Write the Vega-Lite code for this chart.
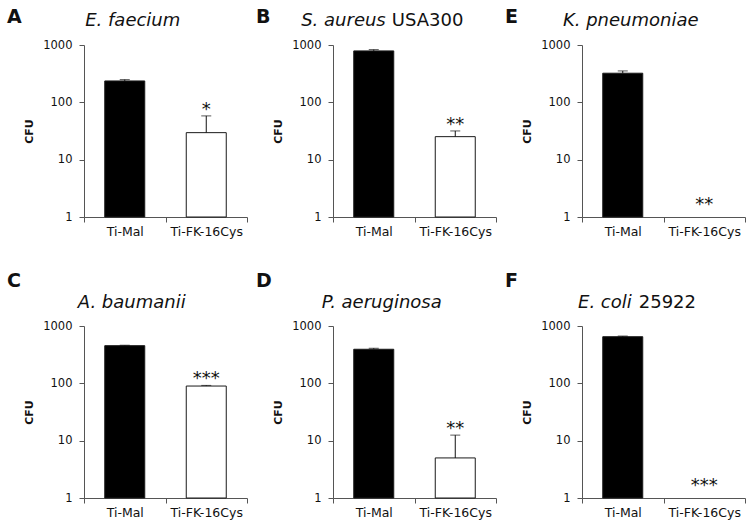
{
  "$schema": "https://vega.github.io/schema/vega-lite/v6.json",
  "padding": {"left": 7, "top": 8, "right": 4, "bottom": 4},
  "background": "white",
  "datasets": {
    "cfu": [
      {"panel": "A", "group": "Ti-Mal", "cfu": 236, "hi": 249, "star": null, "star_at": null},
      {"panel": "A", "group": "Ti-FK-16Cys", "cfu": 29.6, "hi": 58, "star": "*", "star_at": 58},
      {"panel": "B", "group": "Ti-Mal", "cfu": 789, "hi": 831, "star": null, "star_at": null},
      {"panel": "B", "group": "Ti-FK-16Cys", "cfu": 25.2, "hi": 31.7, "star": "**", "star_at": 31.7},
      {"panel": "E", "group": "Ti-Mal", "cfu": 322, "hi": 353, "star": null, "star_at": null},
      {"panel": "E", "group": "Ti-FK-16Cys", "cfu": null, "hi": null, "star": "**", "star_at": 1.25},
      {"panel": "C", "group": "Ti-Mal", "cfu": 454, "hi": 462, "star": null, "star_at": null},
      {"panel": "C", "group": "Ti-FK-16Cys", "cfu": 89.7, "hi": 92, "star": "***", "star_at": 92},
      {"panel": "D", "group": "Ti-Mal", "cfu": 393, "hi": 409, "star": null, "star_at": null},
      {"panel": "D", "group": "Ti-FK-16Cys", "cfu": 5.0, "hi": 12.5, "star": "**", "star_at": 12.5},
      {"panel": "F", "group": "Ti-Mal", "cfu": 651, "hi": 668, "star": null, "star_at": null},
      {"panel": "F", "group": "Ti-FK-16Cys", "cfu": null, "hi": null, "star": "***", "star_at": 1.25}
    ]
  },
  "bounds": "flush",
  "columns": 3,
  "spacing": {"row": 109, "column": 86},
  "concat": [
    {
      "width": 163, "height": 172,
      "data": {"name": "cfu"},
      "transform": [{"filter": "datum.panel == 'A'"}],
      "layer": [
        {"mark": {"type": "bar", "width": 40, "stroke": "#1a1a1a", "strokeWidth": 1},
         "encoding": {
           "x": {"field": "group", "type": "nominal", "scale": {"domain": ["Ti-Mal", "Ti-FK-16Cys"], "paddingInner": 0, "paddingOuter": 0}, "axis": {"title": null, "labelAngle": 0, "tickBand": "extent"}},
           "y": {"field": "cfu", "type": "quantitative", "scale": {"type": "log", "domain": [1, 1000]}, "title": "CFU", "axis": {"values": [1, 10, 100, 1000], "format": "d", "labelFlush": false, "labelOverlap": false}},
           "y2": {"datum": 1},
           "color": {"field": "group", "type": "nominal", "scale": {"domain": ["Ti-Mal", "Ti-FK-16Cys"], "range": ["#000000", "#ffffff"]}, "legend": null}}},
        {"mark": {"type": "rule", "color": "#111", "strokeWidth": 1},
         "encoding": {"x": {"field": "group", "type": "nominal"}, "y": {"field": "hi", "type": "quantitative", "title": "CFU"}, "y2": {"field": "cfu"}}},
        {"mark": {"type": "tick", "color": "#111", "thickness": 1, "size": 10},
         "encoding": {"x": {"field": "group", "type": "nominal"}, "y": {"field": "hi", "type": "quantitative", "title": "CFU"}}},
        {"transform": [{"filter": "datum.star != null"}],
         "mark": {"type": "text", "fontSize": 18, "baseline": "alphabetic", "dy": -1},
         "encoding": {"x": {"field": "group", "type": "nominal"}, "y": {"field": "star_at", "type": "quantitative", "title": "CFU"}, "text": {"field": "star"}}},
        {"data": {"values": [{}]},
         "mark": {"type": "text", "text": "E. faecium", "fontSize": 18, "fontStyle": "italic", "baseline": "alphabetic", "dx": 8, "dy": -19},
         "encoding": {"x": {"datum": "Ti-Mal"}, "y": {"datum": 1000}}},
        {"data": {"values": [{}]},
         "mark": {"type": "text", "text": "A", "fontSize": 19, "fontWeight": "bold", "align": "left", "baseline": "alphabetic", "dx": -117.75, "dy": -22},
         "encoding": {"x": {"datum": "Ti-Mal"}, "y": {"datum": 1000}}}
      ]
    },
    {
      "width": 163, "height": 172,
      "data": {"name": "cfu"},
      "transform": [{"filter": "datum.panel == 'B'"}],
      "layer": [
        {"mark": {"type": "bar", "width": 40, "stroke": "#1a1a1a", "strokeWidth": 1},
         "encoding": {
           "x": {"field": "group", "type": "nominal", "scale": {"domain": ["Ti-Mal", "Ti-FK-16Cys"], "paddingInner": 0, "paddingOuter": 0}, "axis": {"title": null, "labelAngle": 0, "tickBand": "extent"}},
           "y": {"field": "cfu", "type": "quantitative", "scale": {"type": "log", "domain": [1, 1000]}, "title": "CFU", "axis": {"values": [1, 10, 100, 1000], "format": "d", "labelFlush": false, "labelOverlap": false}},
           "y2": {"datum": 1},
           "color": {"field": "group", "type": "nominal", "scale": {"domain": ["Ti-Mal", "Ti-FK-16Cys"], "range": ["#000000", "#ffffff"]}, "legend": null}}},
        {"mark": {"type": "rule", "color": "#111", "strokeWidth": 1},
         "encoding": {"x": {"field": "group", "type": "nominal"}, "y": {"field": "hi", "type": "quantitative", "title": "CFU"}, "y2": {"field": "cfu"}}},
        {"mark": {"type": "tick", "color": "#111", "thickness": 1, "size": 10},
         "encoding": {"x": {"field": "group", "type": "nominal"}, "y": {"field": "hi", "type": "quantitative", "title": "CFU"}}},
        {"transform": [{"filter": "datum.star != null"}],
         "mark": {"type": "text", "fontSize": 18, "baseline": "alphabetic", "dy": -1},
         "encoding": {"x": {"field": "group", "type": "nominal"}, "y": {"field": "star_at", "type": "quantitative", "title": "CFU"}, "text": {"field": "star"}}},
        {"data": {"values": [{}]},
         "mark": {"type": "text", "text": "S. aureus", "fontSize": 18, "fontStyle": "italic", "align": "right", "baseline": "alphabetic", "dx": 12, "dy": -19},
         "encoding": {"x": {"datum": "Ti-Mal"}, "y": {"datum": 1000}}},
        {"data": {"values": [{}]},
         "mark": {"type": "text", "text": "USA300", "fontSize": 18, "align": "left", "baseline": "alphabetic", "dx": 18, "dy": -19},
         "encoding": {"x": {"datum": "Ti-Mal"}, "y": {"datum": 1000}}},
        {"data": {"values": [{}]},
         "mark": {"type": "text", "text": "B", "fontSize": 19, "fontWeight": "bold", "align": "left", "baseline": "alphabetic", "dx": -117.75, "dy": -22},
         "encoding": {"x": {"datum": "Ti-Mal"}, "y": {"datum": 1000}}}
      ]
    },
    {
      "width": 163, "height": 172,
      "data": {"name": "cfu"},
      "transform": [{"filter": "datum.panel == 'E'"}],
      "layer": [
        {"mark": {"type": "bar", "width": 40, "stroke": "#1a1a1a", "strokeWidth": 1},
         "encoding": {
           "x": {"field": "group", "type": "nominal", "scale": {"domain": ["Ti-Mal", "Ti-FK-16Cys"], "paddingInner": 0, "paddingOuter": 0}, "axis": {"title": null, "labelAngle": 0, "tickBand": "extent"}},
           "y": {"field": "cfu", "type": "quantitative", "scale": {"type": "log", "domain": [1, 1000]}, "title": "CFU", "axis": {"values": [1, 10, 100, 1000], "format": "d", "labelFlush": false, "labelOverlap": false}},
           "y2": {"datum": 1},
           "color": {"field": "group", "type": "nominal", "scale": {"domain": ["Ti-Mal", "Ti-FK-16Cys"], "range": ["#000000", "#ffffff"]}, "legend": null}}},
        {"mark": {"type": "rule", "color": "#111", "strokeWidth": 1},
         "encoding": {"x": {"field": "group", "type": "nominal"}, "y": {"field": "hi", "type": "quantitative", "title": "CFU"}, "y2": {"field": "cfu"}}},
        {"mark": {"type": "tick", "color": "#111", "thickness": 1, "size": 10},
         "encoding": {"x": {"field": "group", "type": "nominal"}, "y": {"field": "hi", "type": "quantitative", "title": "CFU"}}},
        {"transform": [{"filter": "datum.star != null"}],
         "mark": {"type": "text", "fontSize": 18, "baseline": "alphabetic", "dy": -1},
         "encoding": {"x": {"field": "group", "type": "nominal"}, "y": {"field": "star_at", "type": "quantitative", "title": "CFU"}, "text": {"field": "star"}}},
        {"data": {"values": [{}]},
         "mark": {"type": "text", "text": "K. pneumoniae", "fontSize": 18, "fontStyle": "italic", "baseline": "alphabetic", "dx": 8, "dy": -19},
         "encoding": {"x": {"datum": "Ti-Mal"}, "y": {"datum": 1000}}},
        {"data": {"values": [{}]},
         "mark": {"type": "text", "text": "E", "fontSize": 19, "fontWeight": "bold", "align": "left", "baseline": "alphabetic", "dx": -117.75, "dy": -22},
         "encoding": {"x": {"datum": "Ti-Mal"}, "y": {"datum": 1000}}}
      ]
    },
    {
      "width": 163, "height": 172,
      "data": {"name": "cfu"},
      "transform": [{"filter": "datum.panel == 'C'"}],
      "layer": [
        {"mark": {"type": "bar", "width": 40, "stroke": "#1a1a1a", "strokeWidth": 1},
         "encoding": {
           "x": {"field": "group", "type": "nominal", "scale": {"domain": ["Ti-Mal", "Ti-FK-16Cys"], "paddingInner": 0, "paddingOuter": 0}, "axis": {"title": null, "labelAngle": 0, "tickBand": "extent"}},
           "y": {"field": "cfu", "type": "quantitative", "scale": {"type": "log", "domain": [1, 1000]}, "title": "CFU", "axis": {"values": [1, 10, 100, 1000], "format": "d", "labelFlush": false, "labelOverlap": false}},
           "y2": {"datum": 1},
           "color": {"field": "group", "type": "nominal", "scale": {"domain": ["Ti-Mal", "Ti-FK-16Cys"], "range": ["#000000", "#ffffff"]}, "legend": null}}},
        {"mark": {"type": "rule", "color": "#111", "strokeWidth": 1},
         "encoding": {"x": {"field": "group", "type": "nominal"}, "y": {"field": "hi", "type": "quantitative", "title": "CFU"}, "y2": {"field": "cfu"}}},
        {"mark": {"type": "tick", "color": "#111", "thickness": 1, "size": 10},
         "encoding": {"x": {"field": "group", "type": "nominal"}, "y": {"field": "hi", "type": "quantitative", "title": "CFU"}}},
        {"transform": [{"filter": "datum.star != null"}],
         "mark": {"type": "text", "fontSize": 18, "baseline": "alphabetic", "dy": -1},
         "encoding": {"x": {"field": "group", "type": "nominal"}, "y": {"field": "star_at", "type": "quantitative", "title": "CFU"}, "text": {"field": "star"}}},
        {"data": {"values": [{}]},
         "mark": {"type": "text", "text": "A. baumanii", "fontSize": 18, "fontStyle": "italic", "baseline": "alphabetic", "dx": 7, "dy": -18},
         "encoding": {"x": {"datum": "Ti-Mal"}, "y": {"datum": 1000}}},
        {"data": {"values": [{}]},
         "mark": {"type": "text", "text": "C", "fontSize": 19, "fontWeight": "bold", "align": "left", "baseline": "alphabetic", "dx": -117.75, "dy": -39},
         "encoding": {"x": {"datum": "Ti-Mal"}, "y": {"datum": 1000}}}
      ]
    },
    {
      "width": 163, "height": 172,
      "data": {"name": "cfu"},
      "transform": [{"filter": "datum.panel == 'D'"}],
      "layer": [
        {"mark": {"type": "bar", "width": 40, "stroke": "#1a1a1a", "strokeWidth": 1},
         "encoding": {
           "x": {"field": "group", "type": "nominal", "scale": {"domain": ["Ti-Mal", "Ti-FK-16Cys"], "paddingInner": 0, "paddingOuter": 0}, "axis": {"title": null, "labelAngle": 0, "tickBand": "extent"}},
           "y": {"field": "cfu", "type": "quantitative", "scale": {"type": "log", "domain": [1, 1000]}, "title": "CFU", "axis": {"values": [1, 10, 100, 1000], "format": "d", "labelFlush": false, "labelOverlap": false}},
           "y2": {"datum": 1},
           "color": {"field": "group", "type": "nominal", "scale": {"domain": ["Ti-Mal", "Ti-FK-16Cys"], "range": ["#000000", "#ffffff"]}, "legend": null}}},
        {"mark": {"type": "rule", "color": "#111", "strokeWidth": 1},
         "encoding": {"x": {"field": "group", "type": "nominal"}, "y": {"field": "hi", "type": "quantitative", "title": "CFU"}, "y2": {"field": "cfu"}}},
        {"mark": {"type": "tick", "color": "#111", "thickness": 1, "size": 10},
         "encoding": {"x": {"field": "group", "type": "nominal"}, "y": {"field": "hi", "type": "quantitative", "title": "CFU"}}},
        {"transform": [{"filter": "datum.star != null"}],
         "mark": {"type": "text", "fontSize": 18, "baseline": "alphabetic", "dy": -1},
         "encoding": {"x": {"field": "group", "type": "nominal"}, "y": {"field": "star_at", "type": "quantitative", "title": "CFU"}, "text": {"field": "star"}}},
        {"data": {"values": [{}]},
         "mark": {"type": "text", "text": "P. aeruginosa", "fontSize": 18, "fontStyle": "italic", "baseline": "alphabetic", "dx": 8, "dy": -18},
         "encoding": {"x": {"datum": "Ti-Mal"}, "y": {"datum": 1000}}},
        {"data": {"values": [{}]},
         "mark": {"type": "text", "text": "D", "fontSize": 19, "fontWeight": "bold", "align": "left", "baseline": "alphabetic", "dx": -117.75, "dy": -39},
         "encoding": {"x": {"datum": "Ti-Mal"}, "y": {"datum": 1000}}}
      ]
    },
    {
      "width": 163, "height": 172,
      "data": {"name": "cfu"},
      "transform": [{"filter": "datum.panel == 'F'"}],
      "layer": [
        {"mark": {"type": "bar", "width": 40, "stroke": "#1a1a1a", "strokeWidth": 1},
         "encoding": {
           "x": {"field": "group", "type": "nominal", "scale": {"domain": ["Ti-Mal", "Ti-FK-16Cys"], "paddingInner": 0, "paddingOuter": 0}, "axis": {"title": null, "labelAngle": 0, "tickBand": "extent"}},
           "y": {"field": "cfu", "type": "quantitative", "scale": {"type": "log", "domain": [1, 1000]}, "title": "CFU", "axis": {"values": [1, 10, 100, 1000], "format": "d", "labelFlush": false, "labelOverlap": false}},
           "y2": {"datum": 1},
           "color": {"field": "group", "type": "nominal", "scale": {"domain": ["Ti-Mal", "Ti-FK-16Cys"], "range": ["#000000", "#ffffff"]}, "legend": null}}},
        {"mark": {"type": "rule", "color": "#111", "strokeWidth": 1},
         "encoding": {"x": {"field": "group", "type": "nominal"}, "y": {"field": "hi", "type": "quantitative", "title": "CFU"}, "y2": {"field": "cfu"}}},
        {"mark": {"type": "tick", "color": "#111", "thickness": 1, "size": 10},
         "encoding": {"x": {"field": "group", "type": "nominal"}, "y": {"field": "hi", "type": "quantitative", "title": "CFU"}}},
        {"transform": [{"filter": "datum.star != null"}],
         "mark": {"type": "text", "fontSize": 18, "baseline": "alphabetic", "dy": -1},
         "encoding": {"x": {"field": "group", "type": "nominal"}, "y": {"field": "star_at", "type": "quantitative", "title": "CFU"}, "text": {"field": "star"}}},
        {"data": {"values": [{}]},
         "mark": {"type": "text", "text": "E. coli", "fontSize": 18, "fontStyle": "italic", "align": "right", "baseline": "alphabetic", "dx": 9, "dy": -18},
         "encoding": {"x": {"datum": "Ti-Mal"}, "y": {"datum": 1000}}},
        {"data": {"values": [{}]},
         "mark": {"type": "text", "text": "25922", "fontSize": 18, "align": "left", "baseline": "alphabetic", "dx": 16, "dy": -18},
         "encoding": {"x": {"datum": "Ti-Mal"}, "y": {"datum": 1000}}},
        {"data": {"values": [{}]},
         "mark": {"type": "text", "text": "F", "fontSize": 19, "fontWeight": "bold", "align": "left", "baseline": "alphabetic", "dx": -117.75, "dy": -39},
         "encoding": {"x": {"datum": "Ti-Mal"}, "y": {"datum": 1000}}}
      ]
    }
  ],
  "config": {
    "font": "DejaVu Sans",
    "view": {"stroke": null},
    "axis": {"domainColor": "#555555", "tickColor": "#555555", "labelColor": "#111111", "titleColor": "#111111", "grid": false, "labelFont": "DejaVu Sans", "titleFont": "DejaVu Sans", "domainWidth": 1, "tickWidth": 1},
    "axisX": {"labelFontSize": 12.5, "tickSize": 5, "labelPadding": 3, "labelAngle": 0},
    "axisY": {"labelFontSize": 11.5, "tickSize": 5, "labelPadding": 7, "titleFontSize": 11, "titleFontWeight": "bold", "titlePadding": 8},
    "text": {"font": "DejaVu Sans", "color": "#111111"}
  }
}
